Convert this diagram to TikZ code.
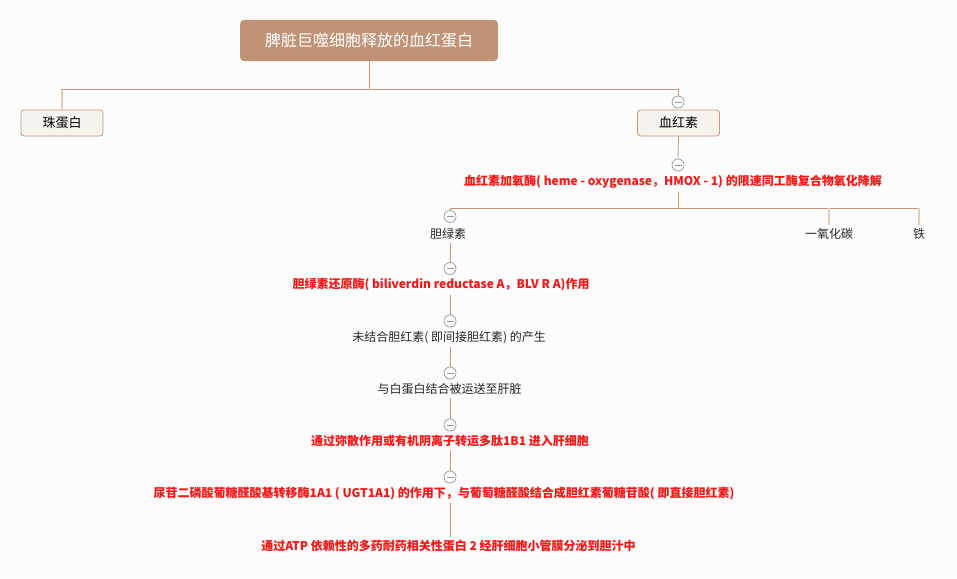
\documentclass[tikz,border=0pt]{standalone}
\usepackage{fontspec}
\setmainfont{Noto Sans CJK SC}
\definecolor{bg}{RGB}{252,252,252}
\definecolor{rootc}{RGB}{192,146,118}
\definecolor{lc}{RGB}{200,150,118}
\definecolor{lcl}{RGB}{226,204,190}
\definecolor{boxf}{RGB}{246,242,237}
\definecolor{circ}{RGB}{150,150,150}
\definecolor{redt}{RGB}{250,20,20}
\begin{document}
\begin{tikzpicture}[x=1pt,y=-1pt,
  ln/.style={draw=lc,line width=0.8pt},
  lnl/.style={draw=lcl,line width=1.2pt},
  rootbox/.style={fill=rootc,rounded corners=4pt,minimum width=258pt,minimum height=41pt,text=white,font=\fontsize{16pt}{18pt}\selectfont,inner sep=0pt},
  subbox/.style={draw=lc,fill=boxf,rounded corners=3pt,minimum width=82pt,minimum height=26pt,font=\fontsize{13pt}{15pt}\selectfont,inner sep=0pt,line width=0.8pt},
  toggle/.style={circle,draw=circ,fill=white,minimum size=12pt,inner sep=0pt,line width=0.7pt,
    path picture={\draw[circ,line width=0.7pt] ([xshift=-3.5pt]path picture bounding box.center) -- ([xshift=3.5pt]path picture bounding box.center);}},
  plain/.style={font=\fontsize{12pt}{14pt}\selectfont,inner sep=3pt,text=black!85},
  redtxt/.style={font=\bfseries\fontsize{12pt}{14pt}\selectfont,inner sep=3pt,text=redt}
]
\fill[bg] (0,0) rectangle (957,578);
\useasboundingbox (0,0) rectangle (957,578);

\node[rootbox] (root) at (369,40.5) {脾脏巨噬细胞释放的血红蛋白};
\node[subbox] (zdb) at (62,123) {珠蛋白};
\node[subbox] (hhs) at (678.5,123) {血红素};
\node[toggle] (c0) at (678,102) {};
\coordinate (j1) at (369,89);

\draw[ln] (root.south) -- (j1);
\draw[lnl] (zdb.north) -- (zdb.north |- j1);
\draw[ln] (zdb.north |- j1) -| (c0.north);

\node[toggle] (c1) at (678,165) {};
\draw[ln] (hhs.south) -- (c1.north);
\node[redtxt] (t1) at (673,182) {血红素加氧酶( heme - oxygenase，HMOX - 1) 的限速同工酶复合物氧化降解};
\coordinate (j2) at (678,208);
\draw[ln] (t1.south -| c1) -- (j2);

\node[toggle] (c2) at (450,216.5) {};
\node[plain] (t2) at (448,234) {胆绿素};
\node[plain] (t3) at (829,234) {一氧化碳};
\node[plain] (t4) at (919,234) {铁};
\draw[ln] (c2.north) -- (c2.north |- j2) -- (t4.north |- j2);
\draw[lnl] (t3.north |- j2) -- (t3.north);
\draw[lnl] (t4.north |- j2) -- (t4.north);

\node[toggle] (c3) at (450,268.5) {};
\node[redtxt] (t5) at (441,285) {胆绿素还原酶( biliverdin reductase A，BLV R A)作用};
\draw[ln] (t2.south -| c3) -- (c3.north);

\node[toggle] (c4) at (450,321) {};
\node[plain] (t6) at (449,338) {未结合胆红素( 即间接胆红素) 的产生};
\draw[ln] (t5.south -| c4) -- (c4.north);

\node[toggle] (c5) at (450,373) {};
\node[plain] (t7) at (449.5,389) {与白蛋白结合被运送至肝脏};
\draw[ln] (t6.south -| c5) -- (c5.north);

\node[toggle] (c6) at (450,425) {};
\node[redtxt] (t8) at (450,441) {通过弥散作用或有机阴离子转运多肽1B1 进入肝细胞};
\draw[ln] (t7.south -| c6) -- (c6.north);

\node[toggle] (c7) at (450,477) {};
\node[redtxt] (t9) at (444,493) {尿苷二磷酸葡糖醛酸基转移酶1A1 ( UGT1A1) 的作用下，与葡萄糖醛酸结合成胆红素葡糖苷酸( 即直接胆红素)};
\draw[ln] (t8.south -| c7) -- (c7.north);

\node[redtxt] (t10) at (448.5,546) {通过ATP 依赖性的多药耐药相关性蛋白 2 经肝细胞小管膜分泌到胆汁中};
\draw[ln] (t9.south -| c7) -- (t10.north -| c7);
\end{tikzpicture}
\end{document}
